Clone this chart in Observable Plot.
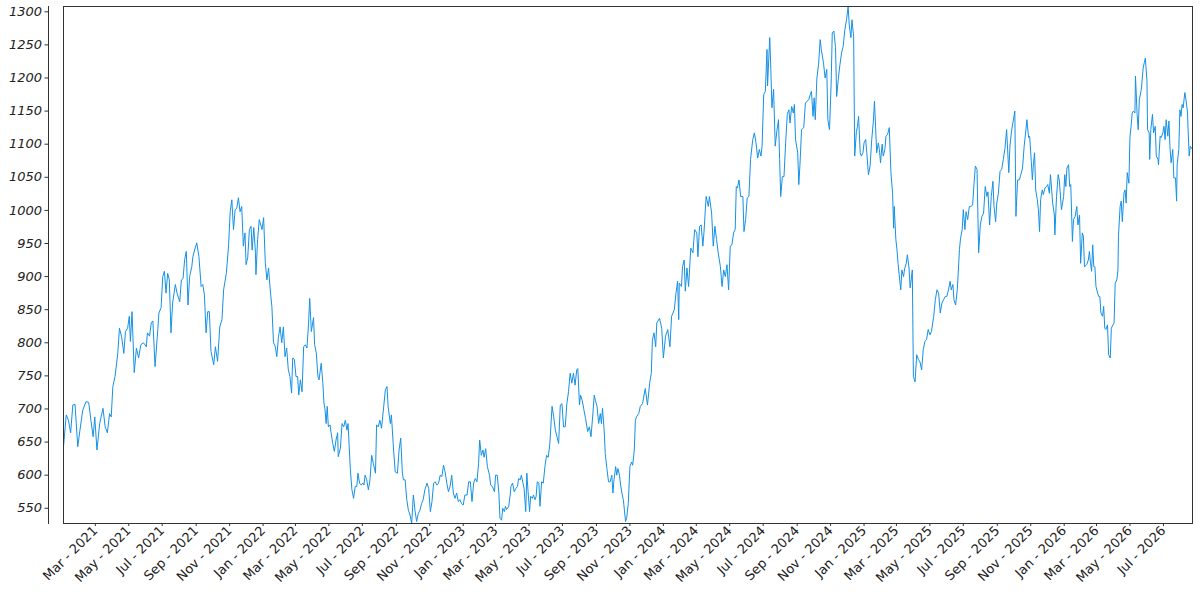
<!DOCTYPE html>
<html>
<head>
<meta charset="utf-8">
<script src="https://cdn.jsdelivr.net/npm/d3@7"></script>
<script src="https://cdn.jsdelivr.net/npm/@observablehq/plot@0.6"></script>
<style>
  html, body { margin: 0; padding: 0; background: #fff; }
  #chart svg g[aria-label="y-axis tick label"] text { font-style: italic; }
</style>
</head>
<body>
<div id="chart"></div>
<script>
// Series start date; offsets below are days after this date
const startDay = "2021-01-02";

const dayOffsets = [
  0,5,9,13,17,21,26,30,35,41,46,50,54,57,61,66,72,76,80,84,87,90,94,99,102,106,110,113,117,120,
  122,125,129,133,137,141,146,151,153,157,160,163,167,172,174,178,181,184,187,190,193,196,199,204,207,212,215,218,221,224,
  227,230,234,236,240,243,247,251,254,257,260,263,266,269,274,277,281,285,289,292,297,301,304,307,310,313,316,319,322,325,
  328,331,333,336,339,342,344,347,350,351,354,357,
  362,365,368,371,374,377,380,383,386,389,392,395,398,401,404,407,410,413,416,418,421,424,427,429,432,435,438,441,444,447,
  449,452,456,458,461,464,466,470,473,475,477,479,481,483,486,488,491,494,497,500,501,505,508,511,514,517,519,523,526,529,
  532,535,537,540,543,546,548,550,553,556,559,562,565,569,571,574,577,580,584,587,590,592,596,598,602,605,609,612,615,618,
  620,623,626,629,632,635,638,641,644,647,650,653,656,659,663,666,669,672,675,678,681,684,687,690,693,696,699,702,705,
  708,711,714,717,720,723,726,729,732,736,739,742,745,748,751,754,757,759,762,765,767,770,773,777,779,782,786,788,791,794,
  796,799,801,804,806,808,812,815,816,819,822,825,828,830,833,835,838,840,843,845,847,850,852,855,857,860,862,864,867,869,
  872,875,878,881,884,887,891,894,897,900,903,906,909,912,915,918,921,924,927,930,933,936,938,941,943,946,949,952,956,959,
  962,965,968,970,973,976,979,981,983,986,988,991,994,997,1000,1002,1004,1007,1009,1011,1014,1016,1019,1021,1023,1025,1027,1030,1033,1036,
  1038,1041,1043,1045,1049,1052,
  1056,1061,1065,1069,1072,1074,1077,1080,1082,1087,1091,1094,1098,1102,1106,1109,1114,1117,1120,1122,
  1123,1127,1129,1132,1134,1137,1140,1144,1148,1151,1155,1157,1160,1163,1166,1168,1172,1176,1178,1182,
  1185,1188,1191,1194,1198,1201,1204,1207,1210,1213,1216,1219,1222,1225,1227,1229,1232,1235,1239,1241,
  1244,1247,1250,1253,1257,1260,1263,1266,1269,1272,1274,1277,1280,1283,1284,1288,1290,1292,1295,1298,
  1301,1304,1306,1308,1311,1314,1317,1320,1323,1325,1328,1331,1333,1335,1339,1341,1343,1346,1350,1353,
  1356,1359,1362,1364,1367,1369,1371,1374,1377,1380,1382,1386,1389,1392,1394,1397,1400,1402,1405,1408,
  1410,1413,1416,1419,1422,1425,1428,1431,1433,1436,1438,1441,1443,1446,1448,1450,1453,1455,1458,1460,
  1463,1465,1468,1471,
  1474,1477,1479,1481,1483,1486,1488,1490,1493,1495,1498,1500,1503,1506,1509,1512,1514,1515,1518,1520,
  1522,1525,1527,1529,1532,1534,1537,1539,1542,1544,1546,1548,1550,1553,1556,1559,1562,1565,1568,1571,
  1574,1577,1580,1583,1587,1590,1593,1596,1599,1602,1605,1608,1611,1614,1617,1619,1622,1624,1627,1630,
  1632,1634,1636,1639,1641,1644,1646,1649,1652,1655,1658,1661,1663,1666,1669,1672,1675,1678,1681,1684,
  1686,1689,1692,1695,1697,1700,1702,1705,1708,1711,1714,1717,1720,1724,1726,1729,1732,1735,1737,1740,
  1743,1746,1749,1752,1755,1757,1760,1762,1765,1767,1769,1771,1773,1776,1778,1780,1782,1785,1787,1790,
  1793,1795,1798,1800,1804,1807,1808,1811,1814,1816,
  1820,1824,1826,1828,1830,1833,1835,1837,1840,1842,1845,1848,1850,1853,1855,1858,1860,1862,1866,1869,
  1871,1873,1875,1877,1879,1881,1883,1886,1888,1890,1892,1895,1897,1899,1901,1904,1906,1909,1911,1914,
  1916,1918,1921,1923,1924,1927,1929,1931,1934,1936,1938,1940,1943,1945,1947,1949,1951,1954,1955,1958,
  1960,1962,1965,1966,1969,1971,1973,1976,1977,1980,1981,1983,1986,1988,1991,1993,1996,1997,2000,2002,
  2005,2007,2009,2011,2014,2016,2018,2020,2023,2025,2028,2030,2031,2034,2036,2038,2040,2042,2045,2047,
  2050,2051,2053,2055,2059
];

const prices = [
  643,691,683,664,706,707,643,668,698,711,710,683,658,688,638,678,701,673,664,693,688,734,749,784,822,809,784,817,822,840,
  802,847,755,792,777,797,800,794,815,810,830,833,764,820,845,853,900,908,875,905,895,815,860,888,875,862,895,897,926,938,
  857,900,915,930,943,951,930,885,888,872,815,847,847,787,767,794,772,824,835,880,905,946,998,1016,971,1001,1003,1019,998,1006,
  946,966,918,929,971,976,940,974,937,903,956,986,
  971,989,921,895,913,880,855,800,795,779,809,824,800,824,779,792,759,749,724,777,775,749,749,721,744,726,794,797,792,830,
  867,817,838,797,785,749,744,769,739,709,699,678,704,673,676,664,648,636,653,664,628,641,678,673,683,668,678,610,578,565,
  583,583,603,588,585,588,585,600,593,578,593,630,618,603,676,673,683,671,704,729,734,704,678,691,638,605,603,638,656,603,
  593,593,563,547,540,527,570,547,530,542,547,557,563,578,588,580,545,560,588,590,585,588,600,598,615,605,588,575,583,
  600,573,565,573,560,563,557,555,570,570,590,590,560,588,595,590,618,653,630,638,627,640,613,600,585,583,575,600,600,573,
  535,532,550,545,553,548,553,573,583,588,575,580,583,595,593,600,588,580,545,603,578,545,568,565,570,563,568,590,588,553,
  590,588,613,630,627,648,704,688,668,658,648,706,708,673,673,708,726,754,739,754,736,759,761,706,721,713,699,686,666,673,
  658,688,721,713,704,678,693,678,701,668,633,610,590,590,600,573,593,613,600,610,600,585,570,563,547,530,535,557,613,620,
  615,638,683,688,693,704,
  708,731,706,739,754,804,815,794,830,837,822,777,810,820,794,840,850,875,893,835,
  890,885,915,925,878,913,885,943,936,971,966,930,976,978,946,966,1021,1006,1021,996,
  946,976,956,936,915,885,910,900,918,880,946,948,966,971,1036,1034,1046,1021,1021,968,
  986,1019,1021,1077,1107,1117,1102,1079,1092,1082,1097,1175,1180,1243,1188,1261,1213,1155,1183,1097,
  1120,1137,1077,1021,1051,1051,1102,1145,1152,1132,1157,1147,1160,1107,1087,1039,1067,1122,1125,1162,
  1165,1167,1175,1180,1142,1170,1137,1200,1220,1258,1243,1223,1200,1213,1137,1122,1192,1268,1271,1246,
  1172,1198,1220,1238,1248,1273,1288,1308,1280,1261,1288,1263,1082,1119,1127,1142,1087,1082,1087,1102,
  1107,1087,1054,1067,
  1107,1135,1165,1127,1087,1102,1092,1072,1100,1082,1092,1112,1115,1125,1057,1026,973,1006,956,941,
  920,895,880,910,900,912,920,933,913,883,895,910,749,741,782,775,771,759,790,802,
  805,820,812,817,840,865,880,875,845,860,865,870,870,880,893,880,888,865,857,880,
  910,941,958,971,1001,971,998,986,1006,1006,1008,1046,1067,1062,936,978,991,996,1036,1021,
  1028,978,1021,1044,1006,983,1011,1026,1059,1062,1077,1094,1122,1057,1097,1120,1135,1150,991,1046,
  1046,1054,1064,1097,1120,1137,1110,1112,1074,1046,1072,1087,1031,1016,1001,968,1016,1031,1024,1034,
  1036,1039,1026,1054,1011,993,963,1021,1054,1046,
  1001,1021,1054,1036,1064,1069,1036,1039,953,986,991,1006,978,993,920,966,961,915,918,925,
  938,920,908,948,915,915,885,875,870,870,845,840,855,822,820,827,782,777,822,827,
  830,890,895,910,961,1006,1014,983,1026,1031,1011,1057,1041,1112,1127,1147,1150,1147,1203,1145,
  1122,1167,1180,1185,1215,1223,1230,1195,1122,1117,1077,1122,1145,1117,1127,1082,1077,1069,1112,1110,
  1117,1127,1107,1137,1112,1135,1094,1072,1092,1049,1049,1014,1069,1092,1152,1142,1160,1155,1178,1168,
  1147,1120,1082,1097,1092
];

const tickMonths = [
  "2021-03","2021-05","2021-07","2021-09","2021-11",
  "2022-01","2022-03","2022-05","2022-07","2022-09","2022-11",
  "2023-01","2023-03","2023-05","2023-07","2023-09","2023-11",
  "2024-01","2024-03","2024-05","2024-07","2024-09","2024-11",
  "2025-01","2025-03","2025-05","2025-07","2025-09","2025-11",
  "2026-01","2026-03","2026-05","2026-07"
];

const yTicks = [550,600,650,700,750,800,850,900,950,1000,1050,1100,1150,1200,1250,1300];

const start = new Date(startDay + "T00:00:00Z");
const n = Math.min(dayOffsets.length, prices.length);
const rows = d3.range(n).map(i => ({date: d3.utcDay.offset(start, dayOffsets[i]), value: prices[i]}));
const tickDates = tickMonths.map(s => new Date(s + "-01T00:00:00Z"));

const chart = Plot.plot({
  width: 1200,
  height: 600,
  marginLeft: 48,
  marginRight: 8,
  marginTop: 6,
  marginBottom: 77,
  style: {fontFamily: "DejaVu Sans", fontSize: "13px", color: "#222", background: "#fff"},
  x: {type: "utc", domain: d3.extent(rows, d => d.date), insetLeft: 15},
  y: {domain: d3.extent(rows, d => d.value)},
  marks: [
    Plot.frame({anchor: "left", stroke: "#333", strokeWidth: 1}),
    Plot.axisY({ticks: yTicks, tickFormat: d3.format("d"), tickSize: 3.5, tickPadding: 3, label: null, stroke: "#333"}),
    Plot.axisX({ticks: tickDates, tickFormat: d3.utcFormat("%b - %Y"), tickRotate: -45, tickSize: 3, tickPadding: 2, label: null, stroke: "#333"}),
    Plot.line(rows, {x: "date", y: "value", stroke: "#1591e3", strokeWidth: 1}),
    Plot.frame({insetLeft: 15, stroke: "#333"})
  ]
});
document.getElementById("chart").appendChild(chart);
</script>
</body>
</html>
